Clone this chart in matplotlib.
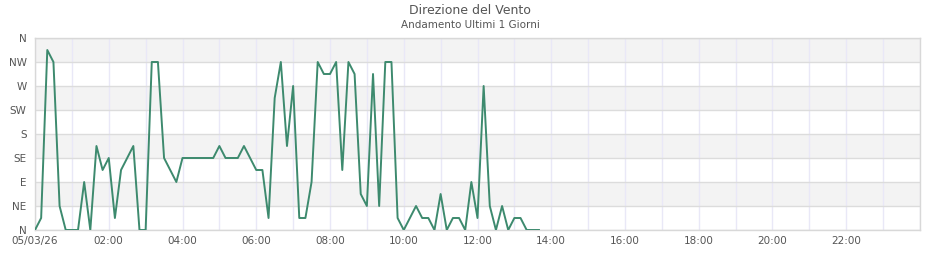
import matplotlib
matplotlib.use("Agg")
import matplotlib.pyplot as plt
import matplotlib.dates as mdates
import pandas as pd

# wind direction (degrees) every 10 minutes from 00:00
start = "2026-03-05 00:00"
direction = [
    0, 22.5, 337.5, 315, 45, 0, 0, 0, 90, 0,
    157.5, 112.5, 135, 22.5, 112.5, 135, 157.5, 0, 0, 315,
    315, 135, 112.5, 90, 135, 135, 135, 135, 135, 135,
    157.5, 135, 135, 135, 157.5, 135, 112.5, 112.5, 22.5, 247.5,
    315, 157.5, 270, 22.5, 22.5, 90, 315, 292.5, 292.5, 315,
    112.5, 315, 292.5, 67.5, 45, 292.5, 45, 315, 315, 22.5,
    0, 22.5, 45, 22.5, 22.5, 0, 67.5, 0, 22.5, 22.5,
    0, 90, 22.5, 270, 45, 0, 45, 0, 22.5, 22.5,
    0, 0, 0,
]
compass_deg = [0, 45, 90, 135, 180, 225, 270, 315, 360]
compass_lbl = ["N", "NE", "E", "SE", "S", "SW", "W", "NW", "N"]

times = pd.date_range(start, periods=len(direction), freq="10min")
day_start = pd.Timestamp(start)
day_end = day_start + pd.Timedelta(hours=24)

fig = plt.figure(figsize=(9.4, 2.6), dpi=100)
ax = fig.add_axes([35 / 940, 1 - 230 / 260, 885 / 940, 192 / 260])

# alternating bands
for k in range(len(compass_deg) - 1):
    if k % 2 == 1:
        ax.axhspan(compass_deg[k], compass_deg[k + 1], color="#f3f3f3", zorder=0, lw=0)

ax.plot(times, direction, color="#3d8a6e", lw=1.4, zorder=3)

ax.set_xlim(day_start, day_end)
ax.set_ylim(0, 360)
ax.set_yticks(compass_deg)
ax.set_yticklabels(compass_lbl)

ax.xaxis.set_major_locator(mdates.HourLocator(byhour=range(0, 24, 2)))
ax.xaxis.set_minor_locator(mdates.HourLocator())


def fmt(x, pos=None):
    d = mdates.num2date(x).replace(tzinfo=None)
    if d >= day_end:
        return ""
    if d.hour == 0 and d.minute == 0:
        return d.strftime("%d/%m/%y")
    return d.strftime("%H:%M")


ax.xaxis.set_major_formatter(plt.FuncFormatter(fmt))

ax.grid(True, axis="x", which="both", color="#e9e8f7", lw=1, zorder=1)
ax.grid(True, axis="y", color="#dcdcdc", lw=1, zorder=1)
ax.set_axisbelow(True)
ax.tick_params(axis="both", which="both", length=0, labelsize=7.5, labelcolor="#555555")
ax.tick_params(axis="y", pad=6)
ax.tick_params(axis="x", pad=4)
for s in ax.spines.values():
    s.set_color("#d8d8d8")
    s.set_linewidth(1)

fig.text(0.5, 1 - 11 / 260, "Direzione del Vento", ha="center", va="center",
         fontsize=9, color="#555555")
fig.text(0.5, 1 - 25 / 260, "Andamento Ultimi 1 Giorni", ha="center", va="center",
         fontsize=7.5, color="#555555")

fig.savefig("out.png", dpi=100)
